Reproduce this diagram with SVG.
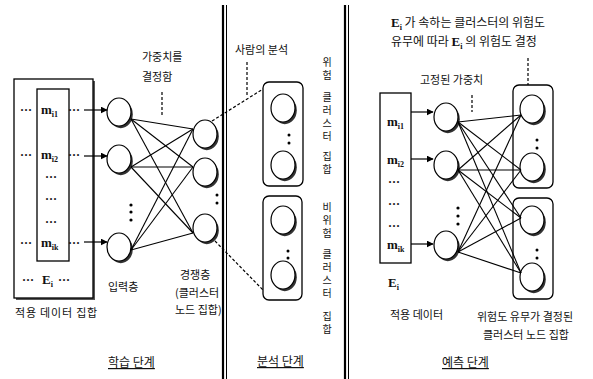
<svg xmlns="http://www.w3.org/2000/svg" xmlns:xlink="http://www.w3.org/1999/xlink" width="593" height="379" viewBox="0 0 593 379">
  <style>
    .ko { font-family: "Noto Sans CJK KR", "Noto Sans", sans-serif; font-size: 11px; fill: #111; }
    .ko-l { font-family: "Noto Sans CJK KR", "Noto Sans", sans-serif; font-size: 12px; fill: #111; }
    .vert { font-family: "Noto Sans CJK KR", "Noto Sans", sans-serif; font-size: 10px; fill: #111; writing-mode: vertical-rl; text-orientation: upright; letter-spacing: 3px; }
    .head { font-family: "Noto Sans CJK KR", "Noto Sans", sans-serif; font-size: 12px; fill: #111; text-decoration: underline; }
    .var { font-family: "Liberation Serif", serif; font-size: 13px; font-weight: bold; fill: #111; }
    .sub { font-size: 8px; }
    .dots { font-family: "Liberation Serif", serif; font-size: 12px; font-weight: bold; fill: #111; }
    .box { fill: #fff; stroke: #000; stroke-width: 1.3; }
    .group { fill: none; stroke: #000; stroke-width: 1.3; }
    .link { stroke: #000; stroke-width: 1.1; fill: none; }
    .dash { stroke: #000; stroke-width: 1.2; stroke-dasharray: 3 2; fill: none; }
    .sep { stroke: #000; fill: none; }
    .arrow { stroke: #000; stroke-width: 1.2; fill: none; marker-end: url(#head); }
  </style>
  <defs>
    <marker id="head" viewBox="0 0 10 10" refX="9" refY="5" markerWidth="7" markerHeight="7" orient="auto" markerUnits="userSpaceOnUse">
      <path d="M0,0 L10,5 L0,10 z" fill="#000"/>
    </marker>
    <!-- neuron: white ellipse with a dark crescent shadow at lower right -->
    <g id="node">
      <ellipse cx="1.8" cy="2.2" rx="12" ry="14" fill="#333"/>
      <ellipse cx="0" cy="0" rx="12" ry="14" fill="#fff" stroke="#000" stroke-width="1.2"/>
    </g>
  </defs>

  <rect width="593" height="379" fill="#fff"/>

  <!-- stage separators -->
  <g id="separators">
    <line class="sep" x1="223" y1="5" x2="223" y2="379" stroke-width="2.2"/>
    <line class="sep" x1="226.5" y1="5" x2="226.5" y2="379" stroke-width="1"/>
    <line class="sep" x1="345" y1="5" x2="345" y2="379" stroke-width="2.2"/>
    <line class="sep" x1="348.5" y1="5" x2="348.5" y2="379" stroke-width="1"/>
  </g>

  <!-- ===== learning stage ===== -->
  <g id="train-data">
    <rect x="16" y="81" width="79" height="219" fill="#555"/>
    <rect class="box" x="14" y="79" width="79" height="219"/>
    <rect class="box" x="37" y="89" width="32" height="172"/>
    <text class="dots" x="20" y="114">···</text>
    <text class="var" x="41" y="114">m<tspan class="sub" dy="3">i1</tspan></text>
    <text class="dots" x="68" y="114">···</text>
    <text class="dots" x="20" y="159">···</text>
    <text class="var" x="41" y="159">m<tspan class="sub" dy="3">i2</tspan></text>
    <text class="dots" x="68" y="159">···</text>
    <text class="dots" x="45" y="181">···</text>
    <text class="dots" x="45" y="203">···</text>
    <text class="dots" x="45" y="226">···</text>
    <text class="dots" x="20" y="247">···</text>
    <text class="var" x="41" y="247">m<tspan class="sub" dy="3">ik</tspan></text>
    <text class="dots" x="68" y="247">···</text>
    <text class="dots" x="22" y="284">···</text>
    <text class="var" x="42" y="284">E<tspan class="sub" dy="3">i</tspan></text>
    <text class="dots" x="58" y="284">···</text>
  </g>

  <g id="train-input">
    <use xlink:href="#node" x="119" y="112"/>
    <use xlink:href="#node" x="119" y="159"/>
    <use xlink:href="#node" x="119" y="247"/>
    <circle cx="131" cy="205" r="1.6" fill="#000"/>
    <circle cx="131" cy="212" r="1.6" fill="#000"/>
    <circle cx="131" cy="220" r="1.6" fill="#000"/>
  </g>

  <g id="train-competitive">
    <use xlink:href="#node" x="205" y="134"/>
    <use xlink:href="#node" x="205" y="172"/>
    <use xlink:href="#node" x="205" y="228"/>
    <circle cx="217" cy="195" r="1.5" fill="#000"/>
    <circle cx="217" cy="203" r="1.5" fill="#000"/>
  </g>

  <g id="train-connectors">
    <line class="arrow" x1="84" y1="110" x2="107" y2="110"/>
    <line class="arrow" x1="84" y1="156" x2="107" y2="156"/>
    <line class="arrow" x1="84" y1="242" x2="107" y2="242"/>
    <g class="link">
      <line x1="131" y1="119" x2="193" y2="129"/>
      <line x1="131" y1="119" x2="193" y2="167"/>
      <line x1="131" y1="119" x2="193" y2="233"/>
      <line x1="131" y1="167" x2="193" y2="129"/>
      <line x1="131" y1="167" x2="193" y2="167"/>
      <line x1="131" y1="167" x2="193" y2="233"/>
      <line x1="131" y1="250" x2="193" y2="129"/>
      <line x1="131" y1="250" x2="193" y2="167"/>
      <line x1="131" y1="250" x2="193" y2="233"/>
    </g>
    <line class="dash" x1="162" y1="92" x2="162" y2="117"/>
  </g>

  <g id="train-labels">
    <text class="ko" x="142" y="61">가중치를</text>
    <text class="ko" x="142" y="81">결정함</text>
    <text class="ko" x="108" y="291">입력층</text>
    <text class="ko" x="180" y="279">경쟁층</text>
    <text class="ko" x="175" y="297">(클러스터</text>
    <text class="ko" x="175" y="314">노드 집합)</text>
    <text class="ko" x="15" y="317" letter-spacing="0.8">적용 데이터 집합</text>
    <text class="head" x="108" y="367">학습 단계</text>
  </g>

  <!-- ===== analysis stage ===== -->
  <g id="risk-clusters">
    <rect class="group" x="263" y="82" width="40" height="104" rx="6"/>
    <use xlink:href="#node" x="283" y="108"/>
    <use xlink:href="#node" x="283" y="165"/>
    <circle cx="289" cy="135" r="1.5" fill="#000"/>
    <circle cx="289" cy="143" r="1.5" fill="#000"/>
  </g>

  <g id="nonrisk-clusters">
    <rect class="group" x="263" y="196" width="39" height="104" rx="6"/>
    <use xlink:href="#node" x="283" y="220"/>
    <use xlink:href="#node" x="283" y="275"/>
    <circle cx="288" cy="251" r="1.5" fill="#000"/>
    <circle cx="288" cy="258" r="1.5" fill="#000"/>
  </g>

  <g id="analysis-connectors">
    <line class="dash" x1="212" y1="121" x2="263" y2="89"/>
    <line class="dash" x1="215" y1="241" x2="263" y2="290"/>
    <line class="dash" x1="247" y1="62" x2="247" y2="97"/>
  </g>

  <g id="analysis-labels">
    <text class="ko" x="235" y="54">사람의 분석</text>
    <!-- vertical captions set top to bottom -->
    <text class="vert" x="327" y="57">위험</text>
    <text class="vert" x="327" y="92">클러스터</text>
    <text class="vert" x="327" y="151">집합</text>
    <text class="vert" x="327" y="202">비위험</text>
    <text class="vert" x="327" y="249">클러스터</text>
    <text class="vert" x="327" y="311">집합</text>
    <text class="head" x="257" y="366">분석 단계</text>
  </g>

  <!-- ===== prediction stage ===== -->
  <g id="predict-data">
    <rect class="box" x="380" y="93" width="31" height="170"/>
    <text class="var" x="387" y="126">m<tspan class="sub" dy="3">i1</tspan></text>
    <text class="var" x="387" y="164">m<tspan class="sub" dy="3">i2</tspan></text>
    <text class="dots" x="388" y="186">···</text>
    <text class="dots" x="388" y="208">···</text>
    <text class="dots" x="388" y="230">···</text>
    <text class="var" x="387" y="249">m<tspan class="sub" dy="3">ik</tspan></text>
    <text class="var" x="388" y="287">E<tspan class="sub" dy="3">i</tspan></text>
  </g>

  <g id="predict-input">
    <use xlink:href="#node" x="446" y="117"/>
    <use xlink:href="#node" x="446" y="165"/>
    <use xlink:href="#node" x="446" y="245"/>
    <circle cx="458" cy="208" r="1.6" fill="#000"/>
    <circle cx="458" cy="216" r="1.6" fill="#000"/>
    <circle cx="458" cy="224" r="1.6" fill="#000"/>
  </g>

  <g id="predict-risk">
    <rect class="group" x="513" y="85" width="40" height="103" rx="6"/>
    <use xlink:href="#node" x="532" y="109"/>
    <use xlink:href="#node" x="532" y="167"/>
    <circle cx="537" cy="140" r="1.5" fill="#000"/>
    <circle cx="537" cy="148" r="1.5" fill="#000"/>
  </g>

  <g id="predict-nonrisk">
    <rect class="group" x="513" y="198" width="40" height="101" rx="6"/>
    <use xlink:href="#node" x="532" y="220"/>
    <use xlink:href="#node" x="532" y="277"/>
    <circle cx="537" cy="250" r="1.5" fill="#000"/>
    <circle cx="537" cy="258" r="1.5" fill="#000"/>
  </g>

  <g id="predict-connectors">
    <line class="arrow" x1="411" y1="112" x2="433" y2="112"/>
    <line class="arrow" x1="411" y1="159" x2="433" y2="159"/>
    <line class="arrow" x1="411" y1="244" x2="433" y2="244"/>
    <g class="link">
      <line x1="458" y1="122" x2="521" y2="115"/>
      <line x1="458" y1="122" x2="521" y2="170"/>
      <line x1="458" y1="122" x2="521" y2="218"/>
      <line x1="458" y1="122" x2="521" y2="273"/>
      <line x1="458" y1="170" x2="521" y2="115"/>
      <line x1="458" y1="170" x2="521" y2="170"/>
      <line x1="458" y1="170" x2="521" y2="218"/>
      <line x1="458" y1="170" x2="521" y2="273"/>
      <line x1="458" y1="252" x2="521" y2="115"/>
      <line x1="458" y1="252" x2="521" y2="170"/>
      <line x1="458" y1="252" x2="521" y2="218"/>
      <line x1="458" y1="252" x2="521" y2="273"/>
    </g>
    <line class="dash" x1="472" y1="95" x2="472" y2="112"/>
    <line class="dash" x1="528" y1="58" x2="528" y2="85"/>
  </g>

  <g id="predict-labels">
    <text class="ko-l" x="391" y="27"><tspan class="var">E<tspan class="sub" dy="3">i</tspan></tspan><tspan dy="-3"> 가 속하는 클러스터의 위험도</tspan></text>
    <text class="ko-l" x="391" y="46">유무에 따라 <tspan class="var">E<tspan class="sub" dy="3">i</tspan></tspan><tspan dy="-3"> 의 위험도 결정</tspan></text>
    <text class="ko" x="420" y="84">고정된 가중치</text>
    <text class="ko" x="390" y="319">적용 데이터</text>
    <text class="ko" x="477" y="321" font-size="10.5">위험도 유무가 결정된</text>
    <text class="ko" x="483" y="339">클러스터 노드 집합</text>
    <text class="head" x="442" y="367">예측 단계</text>
  </g>
</svg>
